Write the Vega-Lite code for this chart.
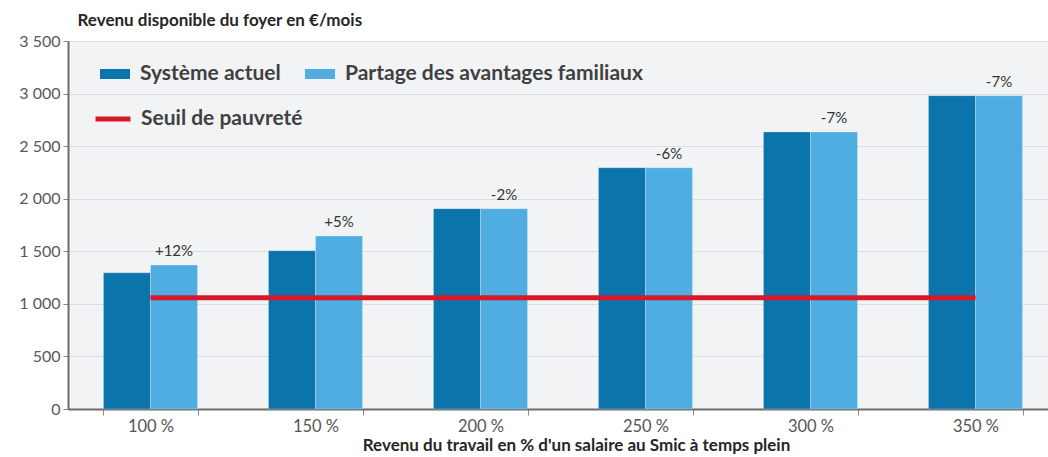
{
  "$schema": "https://vega.github.io/schema/vega-lite/v6.json",
  "width": 980,
  "height": 368,
  "autosize": {"type": "none"},
  "padding": {"left": 68, "top": 41, "right": 0, "bottom": 48},
  "background": "white",
  "config": {
    "view": {"fill": "#f2f3f5", "stroke": null},
    "font": "Lato"
  },
  "datasets": {
    "bars": [
      {"revenu": "100 %", "serie": "Système actuel", "valeur": 1295},
      {"revenu": "100 %", "serie": "Partage des avantages familiaux", "valeur": 1370, "label": "+12%"},
      {"revenu": "150 %", "serie": "Système actuel", "valeur": 1505},
      {"revenu": "150 %", "serie": "Partage des avantages familiaux", "valeur": 1645, "label": "+5%"},
      {"revenu": "200 %", "serie": "Système actuel", "valeur": 1905},
      {"revenu": "200 %", "serie": "Partage des avantages familiaux", "valeur": 1905, "label": "-2%"},
      {"revenu": "250 %", "serie": "Système actuel", "valeur": 2295},
      {"revenu": "250 %", "serie": "Partage des avantages familiaux", "valeur": 2295, "label": "-6%"},
      {"revenu": "300 %", "serie": "Système actuel", "valeur": 2635},
      {"revenu": "300 %", "serie": "Partage des avantages familiaux", "valeur": 2635, "label": "-7%"},
      {"revenu": "350 %", "serie": "Système actuel", "valeur": 2980},
      {"revenu": "350 %", "serie": "Partage des avantages familiaux", "valeur": 2980, "label": "-7%"}
    ],
    "seuil": [
      {"debut": "100 %", "fin": "350 %", "valeur": 1058, "serie": "Seuil de pauvreté"}
    ]
  },
  "layer": [
    {
      "data": {"name": "bars"},
      "mark": {"type": "bar", "stroke": "#ffffff", "strokeOpacity": 0.35, "strokeWidth": 0.7},
      "encoding": {
        "x": {
          "field": "revenu",
          "type": "nominal",
          "sort": ["100 %", "150 %", "200 %", "250 %", "300 %", "350 %"],
          "scale": {"range": [0, 990], "paddingInner": 0.43, "paddingOuter": 0.215},
          "axis": {
            "title": "Revenu du travail en % d'un salaire au Smic à temps plein",
            "titleFontSize": 17,
            "titleFontWeight": "bold",
            "titleColor": "#262626",
            "titlePadding": 3,
            "titleX": 508,
            "labelAngle": 0,
            "labelFontSize": 16.5,
            "labelColor": "#555555",
            "labelPadding": 3,
            "tickBand": "extent",
            "tickSize": 6,
            "tickColor": "#8a8a8a",
            "domainColor": "#6d6d6d",
            "domainWidth": 2
          }
        },
        "xOffset": {
          "field": "serie",
          "type": "nominal",
          "sort": ["Système actuel", "Partage des avantages familiaux"],
          "scale": {"paddingInner": 0, "paddingOuter": 0}
        },
        "y": {
          "field": "valeur",
          "type": "quantitative",
          "scale": {"domain": [0, 3500], "nice": false},
          "axis": {
            "title": "Revenu disponible du foyer en €/mois",
            "titleAngle": 0,
            "titleAlign": "left",
            "titleBaseline": "middle",
            "titleX": 9,
            "titleY": -21,
            "titleFontSize": 17,
            "titleFontWeight": "bold",
            "titleColor": "#262626",
            "values": [0, 500, 1000, 1500, 2000, 2500, 3000, 3500],
            "labelExpr": "replace(format(datum.value, ','), ',', ' ')",
            "labelFontSize": 16,
            "labelColor": "#595959",
            "labelPadding": 3,
            "tickSize": 5,
            "tickColor": "#8a8a8a",
            "domainColor": "#6d6d6d",
            "domainWidth": 2,
            "gridColor": "#dcdde1",
            "gridWidth": 1
          }
        },
        "fill": {
          "field": "serie",
          "type": "nominal",
          "sort": ["Système actuel", "Partage des avantages familiaux"],
          "scale": {"domain": ["Système actuel", "Partage des avantages familiaux"], "range": ["#0b74aa", "#4fade2"]},
          "legend": {
            "title": null,
            "orient": "none",
            "legendX": 32,
            "legendY": 18,
            "direction": "horizontal",
            "padding": 0,
            "columnPadding": 24,
            "symbolType": "M-1,-0.333H1V0.333H-1Z",
            "symbolSize": 900,
            "symbolStrokeWidth": 0,
            "labelOffset": 10,
            "labelFontSize": 21,
            "labelFontWeight": "bold",
            "labelColor": "#404040",
            "labelLimit": 500
          }
        }
      }
    },
    {
      "data": {"name": "bars"},
      "transform": [{"filter": "datum.label != null"}],
      "mark": {"type": "text", "align": "center", "baseline": "bottom", "dy": -6, "fontSize": 15, "color": "#333333"},
      "encoding": {
        "x": {"field": "revenu", "type": "nominal", "sort": ["100 %", "150 %", "200 %", "250 %", "300 %", "350 %"]},
        "xOffset": {"field": "serie", "type": "nominal", "sort": ["Système actuel", "Partage des avantages familiaux"]},
        "y": {"field": "valeur", "type": "quantitative"},
        "text": {"field": "label", "type": "nominal"}
      }
    },
    {
      "data": {"name": "seuil"},
      "mark": {"type": "rule", "strokeWidth": 5},
      "encoding": {
        "x": {"field": "debut", "type": "nominal", "sort": ["100 %", "150 %", "200 %", "250 %", "300 %", "350 %"]},
        "x2": {"field": "fin"},
        "y": {"field": "valeur", "type": "quantitative"},
        "stroke": {
          "field": "serie",
          "type": "nominal",
          "scale": {"domain": ["Seuil de pauvreté"], "range": ["#d7182a"]},
          "legend": {
            "title": null,
            "orient": "none",
            "legendX": 25,
            "legendY": 58,
            "padding": 0,
            "symbolType": "stroke",
            "symbolSize": 1225,
            "symbolStrokeWidth": 5,
            "labelOffset": 8,
            "labelFontSize": 21,
            "labelFontWeight": "bold",
            "labelColor": "#404040",
            "labelLimit": 500
          }
        }
      }
    }
  ]
}
